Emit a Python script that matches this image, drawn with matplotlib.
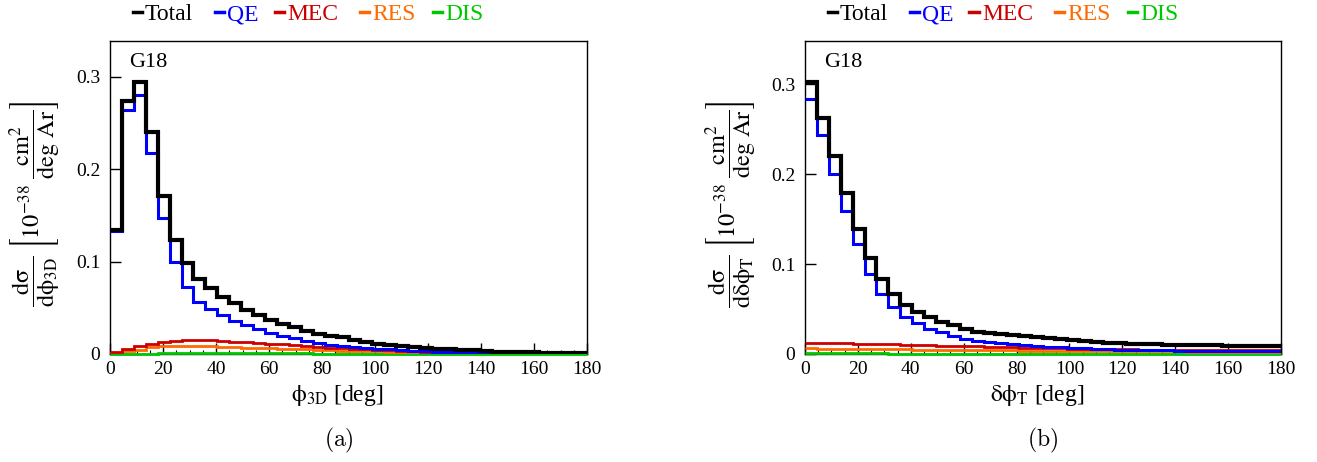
import numpy as np
import matplotlib
matplotlib.use("Agg")
import matplotlib.pyplot as plt
from matplotlib.lines import Line2D

plt.rcParams["font.family"] = ["Liberation Serif", "DejaVu Serif"]
plt.rcParams["mathtext.fontset"] = "stix"

# ---------------- data ----------------
x_lo, x_hi, n_bins = 0.0, 180.0, 40
xticks = [0, 20, 40, 60, 80, 100, 120, 140, 160, 180]
yticks = [0, 0.1, 0.2, 0.3]
ytick_labels = ["0", "0.1", "0.2", "0.3"]
legend_names = ["Total", "QE", "MEC", "RES", "DIS"]

# panel (a): phi_3D
a_total = [0.134, 0.274, 0.294, 0.240, 0.171, 0.123, 0.099, 0.081, 0.071, 0.062,
           0.055, 0.048, 0.042, 0.037, 0.033, 0.029, 0.025, 0.022, 0.020, 0.018,
           0.0156, 0.0130, 0.0112, 0.0098, 0.0087, 0.0076, 0.0068, 0.0059, 0.0050, 0.0044,
           0.0038, 0.0033, 0.0027, 0.0024, 0.0021, 0.0018, 0.0014, 0.0011, 0.0009, 0.0007]
a_qe = [0.1335, 0.2635, 0.280, 0.218, 0.147, 0.0993, 0.073, 0.0567, 0.0485, 0.042,
        0.036, 0.0315, 0.027, 0.023, 0.020, 0.017, 0.014, 0.0116, 0.0100, 0.0088,
        0.0076, 0.0066, 0.0057, 0.0049, 0.0042, 0.0036, 0.0031, 0.0027, 0.0023, 0.0019,
        0.0016, 0.0013, 0.0011, 0.0009, 0.0007, 0.0006, 0.0005, 0.0004, 0.0003, 0.0002]
a_mec = [0.0018, 0.0054, 0.0083, 0.0110, 0.0130, 0.0145, 0.0150, 0.0150, 0.0148, 0.0140,
         0.0134, 0.0127, 0.0120, 0.0110, 0.0105, 0.0094, 0.0083, 0.0076, 0.0070, 0.0063,
         0.0057, 0.0050, 0.0045, 0.0040, 0.0035, 0.0030, 0.0027, 0.0023, 0.0020, 0.0017,
         0.0015, 0.0012, 0.0010, 0.0008, 0.0006, 0.0005, 0.0004, 0.0003, 0.0002, 0.0001]
a_res = [0.0010, 0.0030, 0.0047, 0.0072, 0.0083, 0.0087, 0.0087, 0.0087, 0.0086, 0.0080,
         0.0072, 0.0069, 0.0065, 0.0062, 0.0058, 0.0054, 0.0050, 0.0045, 0.0041, 0.0037,
         0.0034, 0.0030, 0.0028, 0.0025, 0.0022, 0.0020, 0.0018, 0.0016, 0.0014, 0.0012,
         0.0010, 0.0009, 0.0008, 0.0006, 0.0005, 0.0004, 0.0003, 0.0002, 0.0002, 0.0001]
a_dis = [0.0002, 0.0003, 0.0004, 0.0005, 0.0006, 0.0006, 0.0007, 0.0007, 0.0007, 0.0007,
         0.0007, 0.0007, 0.0007, 0.0006, 0.0006, 0.0006, 0.0006, 0.0005, 0.0005, 0.0005,
         0.0005, 0.0004, 0.0004, 0.0004, 0.0004, 0.0003, 0.0003, 0.0003, 0.0003, 0.0003,
         0.0002, 0.0002, 0.0002, 0.0002, 0.0002, 0.0001, 0.0001, 0.0001, 0.0001, 0.0001]

# panel (b): delta phi_T
b_total = [0.302, 0.262, 0.220, 0.1785, 0.139, 0.107, 0.083, 0.067, 0.055, 0.047,
           0.041, 0.036, 0.032, 0.028, 0.025, 0.0235, 0.0222, 0.0210, 0.0198, 0.0186,
           0.0175, 0.0163, 0.0152, 0.0143, 0.0135, 0.0127, 0.0120, 0.0115, 0.0110, 0.0106,
           0.0103, 0.0100, 0.0098, 0.0096, 0.0095, 0.0094, 0.0093, 0.0093, 0.0093, 0.0093]
b_qe = [0.283, 0.243, 0.200, 0.159, 0.122, 0.089, 0.067, 0.052, 0.041, 0.034,
        0.028, 0.024, 0.0205, 0.017, 0.015, 0.0132, 0.0118, 0.0106, 0.0096, 0.0088,
        0.0080, 0.0073, 0.0067, 0.0062, 0.0057, 0.0053, 0.0049, 0.0046, 0.0043, 0.0041,
        0.0039, 0.0037, 0.0036, 0.0035, 0.0034, 0.0034, 0.0033, 0.0033, 0.0033, 0.0033]
b_mec = [0.0125, 0.0123, 0.0120, 0.0118, 0.0115, 0.0112, 0.0110, 0.0107, 0.0104, 0.0100,
         0.0097, 0.0094, 0.0090, 0.0087, 0.0084, 0.0081, 0.0078, 0.0075, 0.0072, 0.0069,
         0.0066, 0.0064, 0.0061, 0.0059, 0.0057, 0.0055, 0.0053, 0.0051, 0.0049, 0.0048,
         0.0046, 0.0045, 0.0044, 0.0043, 0.0042, 0.0041, 0.0041, 0.0040, 0.0040, 0.0040]
b_res = [0.0062, 0.0060, 0.0059, 0.0058, 0.0056, 0.0055, 0.0054, 0.0052, 0.0051, 0.0050,
         0.0048, 0.0047, 0.0045, 0.0044, 0.0043, 0.0041, 0.0040, 0.0039, 0.0038, 0.0037,
         0.0036, 0.0035, 0.0034, 0.0033, 0.0032, 0.0031, 0.0030, 0.0030, 0.0029, 0.0029,
         0.0028, 0.0028, 0.0027, 0.0027, 0.0027, 0.0026, 0.0026, 0.0026, 0.0026, 0.0026]
b_dis = [0.0006, 0.0006, 0.0006, 0.0006, 0.0006, 0.0006, 0.0006, 0.0005, 0.0005, 0.0005,
         0.0005, 0.0005, 0.0005, 0.0005, 0.0005, 0.0004, 0.0004, 0.0004, 0.0004, 0.0004,
         0.0004, 0.0004, 0.0004, 0.0004, 0.0004, 0.0003, 0.0003, 0.0003, 0.0003, 0.0003,
         0.0003, 0.0003, 0.0003, 0.0003, 0.0003, 0.0003, 0.0003, 0.0003, 0.0003, 0.0003]

colors = ["#000000", "#0000ff", "#cc0000", "#ff6a00", "#00c800"]
widths = [3.0, 2.2, 2.0, 2.0, 2.0]

W, H = 1317, 462
fig = plt.figure(figsize=(W / 100, H / 100), dpi=100)

edges = np.linspace(x_lo, x_hi, n_bins + 1)

panels = [
    dict(left=110, right=587, ymax=0.3387,
         series=[a_total, a_qe, a_mec, a_res, a_dis],
         ylabel=r"$\dfrac{\mathrm{dσ}}{\mathrm{dϕ}_{\mathrm{3D}}}\ \left[10^{\mathrm{-38}}\ \dfrac{\mathrm{cm}^{2}}{\mathrm{deg\ Ar}}\right]$",
         xlabel=r"$\mathrm{ϕ}_{\mathrm{3D}}$ [deg]", caption=r"$\mathrm{(a)}$",
         ylab_x=35, xlab_x=337, cap_x=339),
    dict(left=805, right=1281, ymax=0.3478,
         series=[b_total, b_qe, b_mec, b_res, b_dis],
         ylabel=r"$\dfrac{\mathrm{dσ}}{\mathrm{dδϕ}_{\mathrm{T}}}\ \left[10^{\mathrm{-38}}\ \dfrac{\mathrm{cm}^{2}}{\mathrm{deg\ Ar}}\right]$",
         xlabel=r"$\mathrm{δϕ}_{\mathrm{T}}$ [deg]", caption=r"$\mathrm{(b)}$",
         ylab_x=731, xlab_x=1037, cap_x=1043),
]

top_px, bot_px = 41, 354
for p in panels:
    ax = fig.add_axes([p["left"] / W, 1 - bot_px / H, (p["right"] - p["left"]) / W,
                       (bot_px - top_px) / H])
    for i in range(4, -1, -1):
        ax.stairs(p["series"][i], edges, baseline=None, color=colors[i],
                  linewidth=widths[i], zorder=2 + (4 - i), clip_on=(i != 4))
    ax.set_xlim(x_lo, x_hi)
    ax.set_ylim(0, p["ymax"])
    ax.set_xticks(xticks)
    ax.set_xticks(np.arange(0, 181, 5), minor=True)
    ax.set_yticks(yticks)
    ax.set_yticklabels(ytick_labels)
    ax.tick_params(axis="both", which="major", direction="in", length=8, width=1,
                   labelsize=14, top=False, right=False)
    ax.tick_params(axis="x", which="major", pad=5)
    ax.tick_params(axis="y", which="major", pad=7)
    ax.tick_params(axis="x", which="minor", direction="in", length=3, width=0.8,
                   top=False)
    for s in ax.spines.values():
        s.set_linewidth(1.0)
        s.set_zorder(1)
    ax.text(0.04, 0.93, "G18", transform=ax.transAxes, fontsize=16,
            ha="left", va="center")
    # x label and caption
    fig.text(p["xlab_x"] / W, 1 - 395 / H, p["xlabel"], fontsize=17, ha="center",
             va="center")
    fig.text(p["cap_x"] / W, 1 - 440 / H, p["caption"], fontsize=17, ha="center",
             va="center", math_fontfamily="cm")
    fig.text(p["ylab_x"] / W, 1 - 204 / H, p["ylabel"], fontsize=17.5, rotation=90,
             ha="center", va="center")
    # legend row
    off = [27, 109, 169, 254, 327]
    for j, name in enumerate(legend_names):
        mx = p["left"] + off[j]
        fig.add_artist(Line2D([(mx - 4.5) / W, (mx + 4.5) / W],
                              [1 - 11.5 / H, 1 - 11.5 / H], color=colors[j],
                              linewidth=2.5))
        fig.text((mx + 8) / W, 1 - 15 / H, name, color=colors[j], fontsize=17,
                 ha="left", va="center")

fig.savefig("out.png", dpi=100)
